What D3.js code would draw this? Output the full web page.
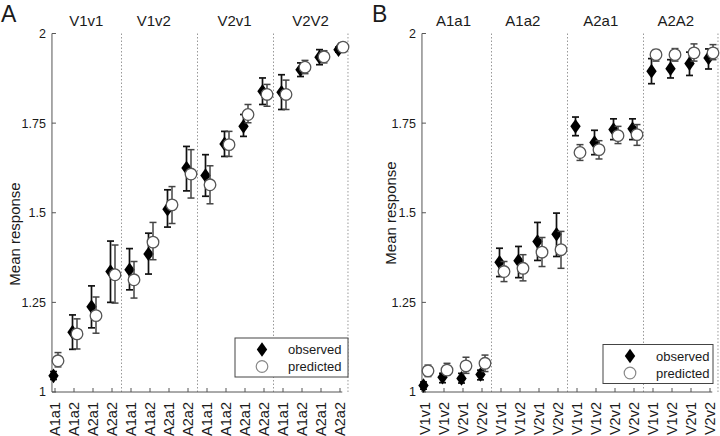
<!DOCTYPE html>
<html>
<head>
<meta charset="utf-8">
<script src="https://cdn.jsdelivr.net/npm/d3@7"></script>
<style>
  body { margin: 0; background: #fff; }
  svg text { font-family: "Liberation Sans", Arial, sans-serif; fill: #1a1a1a; }
</style>
</head>
<body>
<div id="chart"></div>
<script>
// panel A: grouped by V condition, ticks are A conditions
const groupsA = ["V1v1", "V1v2", "V2v1", "V2V2"];
const ticksA = ["A1a1", "A1a2", "A2a1", "A2a2"];
const obsA    = [1.045, 1.167, 1.238, 1.336, 1.341, 1.385, 1.510, 1.625, 1.604, 1.692, 1.741, 1.839, 1.836, 1.899, 1.934, 1.955];
const obsALo  = [1.035, 1.119, 1.179, 1.250, 1.285, 1.329, 1.460, 1.561, 1.546, 1.657, 1.713, 1.802, 1.788, 1.880, 1.913, 1.948];
const obsAHi  = [1.057, 1.215, 1.296, 1.421, 1.400, 1.443, 1.564, 1.685, 1.662, 1.727, 1.774, 1.876, 1.885, 1.918, 1.955, 1.962];
const predA   = [1.087, 1.162, 1.213, 1.327, 1.313, 1.418, 1.522, 1.608, 1.578, 1.690, 1.774, 1.830, 1.830, 1.906, 1.935, 1.962];
const predALo = [1.070, 1.120, 1.164, 1.248, 1.262, 1.369, 1.470, 1.541, 1.525, 1.657, 1.751, 1.797, 1.788, 1.888, 1.918, 1.950];
const predAHi = [1.110, 1.204, 1.265, 1.410, 1.364, 1.473, 1.573, 1.676, 1.631, 1.727, 1.802, 1.858, 1.870, 1.925, 1.952, 1.974];

// panel B: grouped by A condition, ticks are V conditions
const groupsB = ["A1a1", "A1a2", "A2a1", "A2A2"];
const ticksB = ["V1v1", "V1v2", "V2v1", "V2v2"];
const obsB    = [1.018, 1.041, 1.038, 1.049, 1.362, 1.366, 1.420, 1.440, 1.741, 1.696, 1.732, 1.734, 1.895, 1.902, 1.916, 1.932];
const obsBLo  = [1.008, 1.026, 1.025, 1.034, 1.322, 1.319, 1.367, 1.378, 1.715, 1.662, 1.704, 1.704, 1.860, 1.876, 1.883, 1.901];
const obsBHi  = [1.028, 1.052, 1.052, 1.061, 1.401, 1.406, 1.473, 1.499, 1.767, 1.730, 1.762, 1.762, 1.930, 1.927, 1.948, 1.957];
const predB   = [1.059, 1.061, 1.073, 1.080, 1.336, 1.345, 1.390, 1.397, 1.668, 1.676, 1.715, 1.718, 1.941, 1.941, 1.946, 1.946];
const predBLo = [1.043, 1.047, 1.052, 1.057, 1.308, 1.310, 1.350, 1.345, 1.646, 1.650, 1.693, 1.688, 1.923, 1.923, 1.923, 1.927];
const predBHi = [1.075, 1.080, 1.097, 1.103, 1.364, 1.383, 1.431, 1.448, 1.690, 1.701, 1.741, 1.746, 1.955, 1.958, 1.971, 1.969];

const yTicks = [1, 1.25, 1.5, 1.75, 2];
const legendLabels = ["observed", "predicted"];

const svg = d3.select("#chart").append("svg")
    .attr("width", 720)
    .attr("height", 436);

const y = d3.scaleLinear().domain([1, 2]).range([392, 33.5]);
const axisColor = "#555";
const diamondPath = "M0,-7.3L5.2,0L0,7.3L-5.2,0Z";

function drawPanel(p) {
    const g = svg.append("g");
    const x = d3.scaleLinear().domain([0, 15]).range([p.x0, p.x1]);
    const axisLeft = x(-0.16);
    const axisRight = x(15.12);
    const idx = d3.range(16);

    // dotted group separators
    g.selectAll(".sep")
        .data([3.5, 7.5, 11.5, 15.42])
        .join("line")
        .attr("x1", d => x(d)).attr("x2", d => x(d))
        .attr("y1", y(2)).attr("y2", y(1))
        .attr("stroke", "#999")
        .attr("stroke-width", 1)
        .attr("stroke-dasharray", "1.5,2");

    // y axis
    g.append("line")
        .attr("x1", axisLeft).attr("x2", axisLeft)
        .attr("y1", y(2)).attr("y2", y(1))
        .attr("stroke", axisColor);
    g.selectAll(".ytick")
        .data(yTicks)
        .join("line")
        .attr("x1", axisLeft).attr("x2", axisLeft + 4)
        .attr("y1", d => y(d)).attr("y2", d => y(d))
        .attr("stroke", axisColor);
    g.selectAll(".ylab")
        .data(yTicks)
        .join("text")
        .attr("x", axisLeft - 6)
        .attr("y", d => y(d))
        .attr("dy", "0.35em")
        .attr("text-anchor", "end")
        .attr("font-size", 12.5)
        .text(d => d3.format("")(d));

    // x axis
    g.append("line")
        .attr("x1", axisLeft).attr("x2", axisRight)
        .attr("y1", y(1)).attr("y2", y(1))
        .attr("stroke", axisColor);
    g.selectAll(".xtick")
        .data(idx)
        .join("line")
        .attr("x1", d => x(d)).attr("x2", d => x(d))
        .attr("y1", y(1)).attr("y2", y(1) - 4)
        .attr("stroke", axisColor);
    g.selectAll(".xlab")
        .data(idx)
        .join("text")
        .attr("transform", d => `translate(${x(d)},${y(1) + 10}) rotate(-90)`)
        .attr("dy", "0.36em")
        .attr("text-anchor", "end")
        .attr("font-size", 14.5)
        .text(d => p.ticks[d % 4]);

    // group titles
    g.selectAll(".gtitle")
        .data(p.groups)
        .join("text")
        .attr("x", (d, i) => x(p.titlePos[i]))
        .attr("y", 26)
        .attr("text-anchor", "middle")
        .attr("font-size", 15)
        .text(d => d);

    // panel letter
    g.append("text")
        .attr("x", p.letterX).attr("y", 21.5)
        .attr("font-size", 23)
        .text(p.letter);

    // y label
    g.append("text")
        .attr("transform", `translate(${p.ylabX},${p.ylabY}) rotate(-90)`)
        .attr("text-anchor", "middle")
        .attr("font-size", 15)
        .text("Mean response");

    // observed error bars + diamonds
    const obsG = g.append("g");
    idx.forEach(i => {
        const cx = x(i) - 1.5;
        obsG.append("line")
            .attr("x1", cx).attr("x2", cx)
            .attr("y1", y(p.obsLo[i])).attr("y2", y(p.obsHi[i]))
            .attr("stroke", "#111").attr("stroke-width", 1.7);
        [p.obsLo[i], p.obsHi[i]].forEach(v => {
            obsG.append("line")
                .attr("x1", cx - 3.5).attr("x2", cx + 3.5)
                .attr("y1", y(v)).attr("y2", y(v))
                .attr("stroke", "#111").attr("stroke-width", 1.7);
        });
    });
    obsG.selectAll("path")
        .data(idx)
        .join("path")
        .attr("transform", i => `translate(${x(i) - 1.5},${y(p.obs[i])})`)
        .attr("d", diamondPath)
        .attr("fill", "#000");

    // predicted error bars + circles
    const predG = g.append("g");
    idx.forEach(i => {
        const cx = x(i) + 3;
        predG.append("line")
            .attr("x1", cx).attr("x2", cx)
            .attr("y1", y(p.predLo[i])).attr("y2", y(p.predHi[i]))
            .attr("stroke", "#444").attr("stroke-width", 1.5);
        [p.predLo[i], p.predHi[i]].forEach(v => {
            predG.append("line")
                .attr("x1", cx - 3.5).attr("x2", cx + 3.5)
                .attr("y1", y(v)).attr("y2", y(v))
                .attr("stroke", "#444").attr("stroke-width", 1.5);
        });
    });
    predG.selectAll("circle")
        .data(idx)
        .join("circle")
        .attr("cx", i => x(i) + 3)
        .attr("cy", i => y(p.pred[i]))
        .attr("r", 5.8)
        .attr("fill", "#fff")
        .attr("stroke", "#555")
        .attr("stroke-width", 1.3);

    // legend
    const lg = g.append("g").attr("transform", `translate(${p.legX},${p.legY})`);
    lg.append("rect")
        .attr("width", p.legW).attr("height", 39)
        .attr("fill", "#fff")
        .attr("stroke", "#444")
        .attr("stroke-width", 1);
    lg.append("path")
        .attr("transform", "translate(27,11.5)")
        .attr("d", diamondPath)
        .attr("fill", "#000");
    lg.append("circle")
        .attr("cx", 27).attr("cy", 28.5).attr("r", 5.8)
        .attr("fill", "#fff").attr("stroke", "#888").attr("stroke-width", 1.2);
    lg.selectAll(".ltext")
        .data(legendLabels)
        .join("text")
        .attr("x", 53)
        .attr("y", (d, i) => 11.5 + i * 17)
        .attr("dy", "0.35em")
        .attr("font-size", 13)
        .text(d => d);
}

drawPanel({
    x0: 55, x1: 340,
    groups: groupsA, ticks: ticksA,
    titlePos: [1.65, 5.2, 9.45, 13.45],
    letter: "A", letterX: 1,
    ylabX: 20, ylabY: 234,
    obs: obsA, obsLo: obsALo, obsHi: obsAHi,
    pred: predA, predLo: predALo, predHi: predAHi,
    legX: 235, legY: 338, legW: 113
});

drawPanel({
    x0: 425, x1: 710,
    groups: groupsB, ticks: ticksB,
    titlePos: [1.5, 5.15, 9.25, 13.2],
    letter: "B", letterX: 372,
    ylabX: 396, ylabY: 213,
    obs: obsB, obsLo: obsBLo, obsHi: obsBHi,
    pred: predB, predLo: predBLo, predHi: predBHi,
    legX: 603, legY: 344.5, legW: 110
});
</script>
</body>
</html>
